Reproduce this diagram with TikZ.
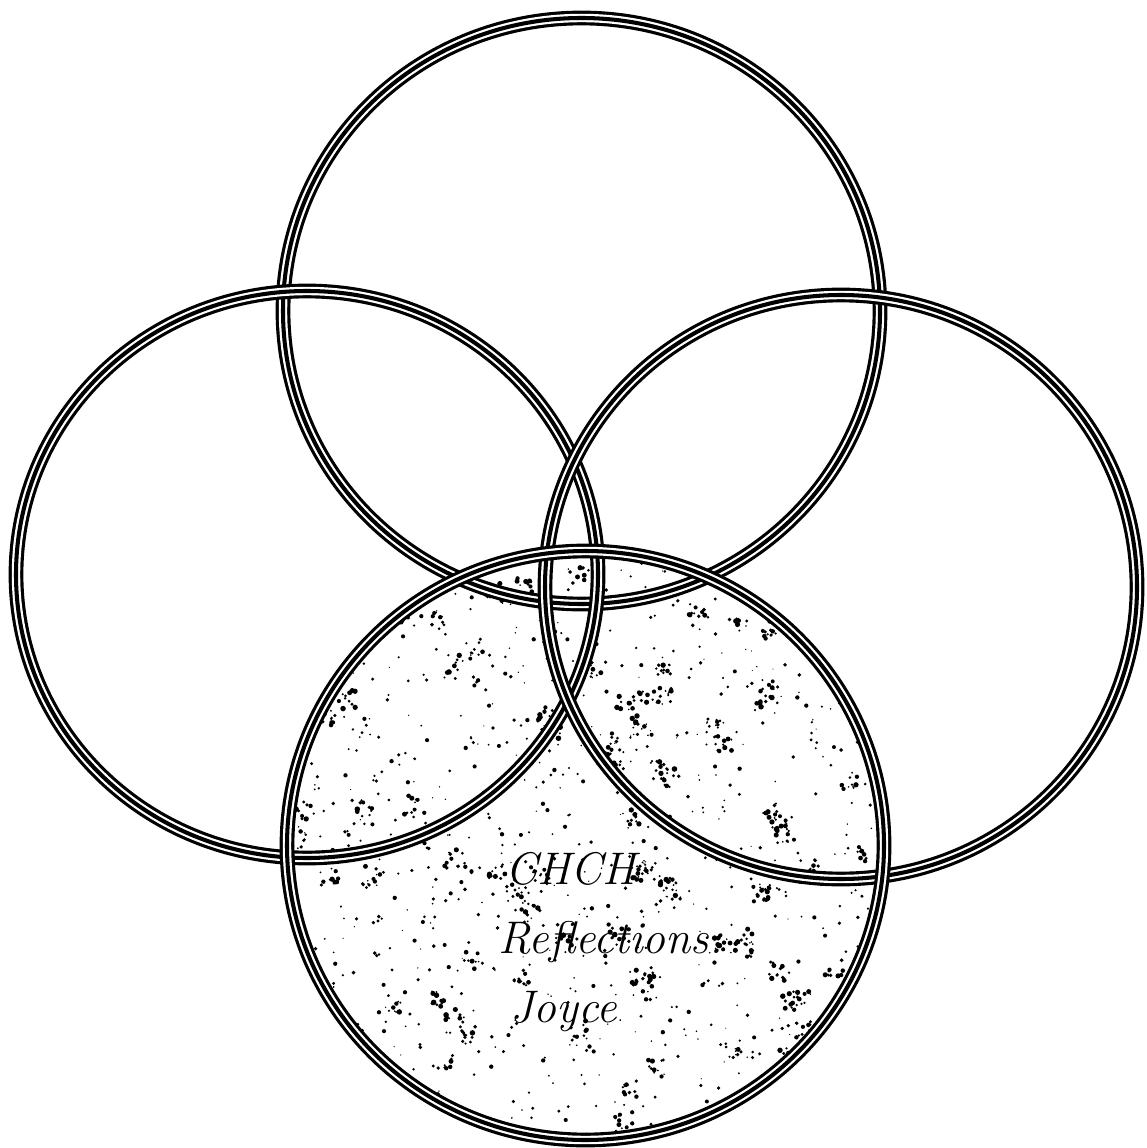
\documentclass[tikz,border=0pt]{standalone}
\usepackage{tikz}
\usetikzlibrary{calc}

\tikzset{
  ring/.style={draw=black, line width=8.4pt,
    postaction={draw=white, line width=4.8pt},
    postaction={draw=black, line width=2.3pt}},
  label/.style={anchor=base west, inner sep=0pt,
    font=\fontsize{26}{32}\selectfont\itshape}
}

\begin{document}
\begin{tikzpicture}[x=0.02cm, y=-0.02cm]
  \useasboundingbox (0,0) rectangle (1146,1148);

  % Speckled fill of the lower circle
  \begin{scope}
    \clip (585.5,845.5) ellipse [x radius=298.5, y radius=294.5];
    \pgfmathsetseed{42}
    \foreach \i in {1,...,900}{
      \fill ({585.5+300*rand},{845.5+300*rand}) circle ({0.6+1.6*rnd});
    }
    \foreach \i in {1,...,90}{
      \pgfmathsetmacro{\cx}{585.5+290*rand}
      \pgfmathsetmacro{\cy}{845.5+290*rand}
      \foreach \j in {1,...,10}{
        \fill ({\cx+10*rand},{\cy+10*rand}) circle ({0.8+2*rnd});
      }
    }
  \end{scope}

  % The four rings
  \draw[ring] (581.5,311) ellipse [x radius=298.5, y radius=293];
  \draw[ring] (307,574.5) ellipse [x radius=291, y radius=283.5];
  \draw[ring] (841,587) ellipse [x radius=296, y radius=292];
  \draw[ring] (585.5,845.5) ellipse [x radius=298.5, y radius=294.5];

  % Title
  \node[label] (chch) at (505,884) {CHCH};
  \node[label] (refl) at (498,953) {Reflections:};
  \node[label] (joyce) at (510,1022) {Joyce};
\end{tikzpicture}
\end{document}
